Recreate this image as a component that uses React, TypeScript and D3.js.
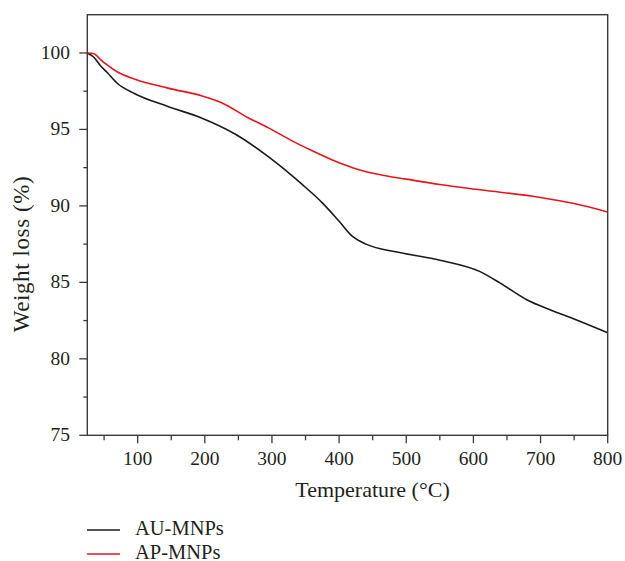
import React from "react";
import * as d3 from "d3";

const auTemps = [25, 34, 44, 55, 70, 95, 145, 195, 245, 295, 345, 375, 400, 420, 440, 490, 550, 610, 640, 680, 715, 750, 800];
const auValues = [100, 99.75, 99.2, 98.7, 98.0, 97.35, 96.5, 95.75, 94.7, 93.2, 91.4, 90.2, 89.0, 88.0, 87.5, 86.95, 86.45, 85.7, 84.95, 83.85, 83.2, 82.6, 81.7];

const apTemps = [25, 35, 45, 55, 70, 95, 145, 195, 225, 265, 295, 330, 360, 390, 420, 465, 500, 550, 610, 700, 750, 800];
const apValues = [100, 99.95, 99.55, 99.2, 98.75, 98.3, 97.7, 97.2, 96.75, 95.75, 95.1, 94.25, 93.6, 93.0, 92.5, 92.0, 91.75, 91.4, 91.05, 90.55, 90.15, 89.6];

const xTicks = [100, 200, 300, 400, 500, 600, 700, 800];
const xMinorTicks = [50, 150, 250, 350, 450, 550, 650, 750];
const yTicks = [75, 80, 85, 90, 95, 100];
const yMinorTicks = [77.5, 82.5, 87.5, 92.5, 97.5];

const seriesNames = ["AU-MNPs", "AP-MNPs"];
const seriesColors = ["#1a1a1a", "#e8141c"];

const W = 625;
const H = 561;
const left = 87.3;
const right = 607.7;
const top = 14.7;
const bottom = 435.3;

export default function App() {
  const x = d3.scaleLinear().domain([25, 800]).range([left, right]);
  const y = d3.scaleLinear().domain([75, 102.5]).range([bottom, top]);
  const line = d3
    .line<[number, number]>()
    .x((d) => x(d[0]))
    .y((d) => y(d[1]))
    .curve(d3.curveMonotoneX);
  const au = auTemps.map((t, i) => [t, auValues[i]] as [number, number]);
  const ap = apTemps.map((t, i) => [t, apValues[i]] as [number, number]);
  const font = "'Liberation Serif', 'DejaVu Serif', serif";
  const textColor = "#231f20";
  const axisColor = "#3a3a3a";
  return (
    <svg width={W} height={H} style={{ position: "absolute", left: 0, top: 0, background: "#fff" }} fontFamily={font}>
      <path d={line(au) || ""} fill="none" stroke={seriesColors[0]} strokeWidth={1.6} />
      <path d={line(ap) || ""} fill="none" stroke={seriesColors[1]} strokeWidth={1.6} />
      <rect x={left} y={top} width={right - left} height={bottom - top} fill="none" stroke={axisColor} strokeWidth={1.4} />
      {xTicks.map((t) => (
        <g key={"x" + t}>
          <line x1={x(t)} x2={x(t)} y1={bottom} y2={bottom + 8} stroke={axisColor} strokeWidth={1.3} />
          <text x={x(t)} y={465} textAnchor="middle" fontSize={19.5} fill={textColor}>
            {t}
          </text>
        </g>
      ))}
      {xMinorTicks.map((t) => (
        <line key={"xm" + t} x1={x(t)} x2={x(t)} y1={bottom} y2={bottom + 5} stroke={axisColor} strokeWidth={1.3} />
      ))}
      {yTicks.map((t) => (
        <g key={"y" + t}>
          <line x1={left - 8} x2={left} y1={y(t)} y2={y(t)} stroke={axisColor} strokeWidth={1.3} />
          <text x={70} y={y(t) + 6} textAnchor="end" fontSize={19.5} fill={textColor}>
            {t}
          </text>
        </g>
      ))}
      {yMinorTicks.map((t) => (
        <line key={"ym" + t} x1={left - 4} x2={left} y1={y(t)} y2={y(t)} stroke={axisColor} strokeWidth={1.3} />
      ))}
      <text x={372.5} y={496.5} textAnchor="middle" fontSize={22} fill={textColor}>
        Temperature (°C)
      </text>
      <text transform={`translate(28.5, 254) rotate(-90)`} textAnchor="middle" fontSize={23} letterSpacing={0.6} fill={textColor}>
        Weight loss (%)
      </text>
      {seriesNames.map((n, i) => (
        <g key={n}>
          <line x1={87} x2={120} y1={530 + i * 24} y2={530 + i * 24} stroke={seriesColors[i]} strokeWidth={1.5} />
          <text x={135} y={535 + i * 24} fontSize={20.5} fill={textColor}>
            {n}
          </text>
        </g>
      ))}
    </svg>
  );
}
